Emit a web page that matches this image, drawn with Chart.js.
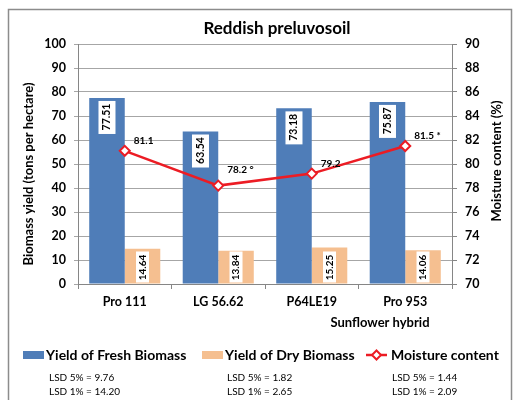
<!DOCTYPE html>
<html>
<head>
<meta charset="utf-8">
<script src="https://cdn.jsdelivr.net/npm/chart.js@4.4.1/dist/chart.umd.min.js"></script>
<style>
  html, body { margin: 0; padding: 0; background: #fff; }
  #wrap { width: 515px; height: 400px; position: relative; }
</style>
</head>
<body>
<div id="wrap"><canvas id="chart" width="515" height="400"></canvas></div>
<script>
// data
var hybrids = ['Pro 111', 'LG 56.62', 'P64LE19', 'Pro 953'];
var freshYield = [77.51, 63.54, 73.18, 75.87];
var dryYield = [14.64, 13.84, 15.25, 14.06];
var moisture = [81.1, 78.2, 79.2, 81.5];
var moistureLabels = ['81.1', '78.2 °', '79.2', '81.5 *'];
var seriesNames = ['Yield of Fresh Biomass', 'Yield of Dry Biomass', 'Moisture content'];
var lsdFresh = ['LSD 5% = 9.76', 'LSD 1% = 14.20'];
var lsdDry = ['LSD 5% = 1.82', 'LSD 1% = 2.65'];
var lsdMoisture = ['LSD 5% = 1.44', 'LSD 1% = 2.09'];

var FONT = 'Lato, "Liberation Sans", sans-serif';
var blue = '#4F7DB8';
var orange = '#F5BF90';
var red = '#EC1C24';
var axisGrey = '#868686';

// frame, titles, legend and LSD notes
var decorations = {
  id: 'decorations',
  beforeDraw: function(chart) {
    var c = chart.ctx;
    c.save();
    c.fillStyle = '#fff';
    c.fillRect(0, 0, chart.width, chart.height);
    c.strokeStyle = '#8C8C8C';
    c.lineWidth = 1.5;
    c.strokeRect(8.5, 9.5, 503, 400);
    c.restore();
  },
  afterDraw: function(chart) {
    var c = chart.ctx;
    c.save();
    c.fillStyle = '#000';
    c.textBaseline = 'middle';

    c.textAlign = 'center';
    c.font = 'bold 17px ' + FONT;
    c.fillText('Reddish preluvosoil', 277, 29);

    c.font = 'bold 13px ' + FONT;
    c.fillText('Sunflower hybrid', 380, 323);

    c.save();
    c.translate(29, 174);
    c.rotate(-Math.PI / 2);
    c.fillText('Biomass yield (tons per hectare)', 0, 0);
    c.restore();

    c.save();
    c.translate(497, 161);
    c.rotate(-Math.PI / 2);
    c.fillText('Moisture content (%)', 0, 0);
    c.restore();

    // legend
    c.textAlign = 'left';
    c.font = 'bold 14px ' + FONT;
    c.fillStyle = blue;
    c.fillRect(23, 351, 21, 8);
    c.fillStyle = '#000';
    c.fillText(seriesNames[0], 46, 355);
    c.fillStyle = orange;
    c.fillRect(202, 351, 21, 8);
    c.fillStyle = '#000';
    c.fillText(seriesNames[1], 225, 355);
    c.strokeStyle = red;
    c.lineWidth = 2.5;
    c.beginPath();
    c.moveTo(366, 355);
    c.lineTo(387, 355);
    c.stroke();
    c.beginPath();
    c.moveTo(376.5, 350.5);
    c.lineTo(381, 355);
    c.lineTo(376.5, 359.5);
    c.lineTo(372, 355);
    c.closePath();
    c.fillStyle = '#fff';
    c.fill();
    c.lineWidth = 2;
    c.stroke();
    c.fillStyle = '#000';
    c.fillText(seriesNames[2], 391, 355);

    // LSD notes
    c.font = '10px ' + FONT;
    [[lsdFresh, 49], [lsdDry, 227], [lsdMoisture, 392]].forEach(function(col) {
      c.fillText(col[0][0], col[1], 378);
      c.fillText(col[0][1], col[1], 392);
    });
    c.restore();
  }
};

// value labels on bars and line points
var valueLabels = {
  id: 'valueLabels',
  afterDatasetsDraw: function(chart) {
    var c = chart.ctx;
    c.save();
    c.textAlign = 'center';
    c.textBaseline = 'middle';

    chart.getDatasetMeta(0).data.forEach(function(bar, i) {
      var cy = bar.y + 19;
      c.fillStyle = '#fff';
      c.fillRect(bar.x - 8.5, bar.y + 3, 17, 33);
      c.save();
      c.translate(bar.x, cy);
      c.rotate(-Math.PI / 2);
      c.fillStyle = '#000';
      c.font = 'bold 10.5px ' + FONT;
      c.fillText(freshYield[i].toFixed(2), 0, 0);
      c.restore();
    });

    chart.getDatasetMeta(1).data.forEach(function(bar, i) {
      var cy = bar.base - 16;
      c.fillStyle = '#fff';
      c.fillRect(bar.x - 6.5, bar.base - 32, 13, 31);
      c.save();
      c.translate(bar.x, cy);
      c.rotate(-Math.PI / 2);
      c.fillStyle = '#000';
      c.font = 'bold 10px ' + FONT;
      c.fillText(dryYield[i].toFixed(2), 0, 0);
      c.restore();
    });

    c.textAlign = 'left';
    c.font = 'bold 10px ' + FONT;
    c.fillStyle = '#000';
    chart.getDatasetMeta(2).data.forEach(function(pt, i) {
      var up = i === 1 ? 16 : 10;
      c.fillText(moistureLabels[i], pt.x + 9, pt.y - up);
    });
    c.restore();
  }
};

var chart = new Chart(document.getElementById('chart'), {
  type: 'bar',
  data: {
    labels: hybrids,
    datasets: [
      {
        label: seriesNames[0],
        data: freshYield,
        backgroundColor: blue,
        yAxisID: 'y',
        order: 2,
        categoryPercentage: 0.76,
        barPercentage: 1.0
      },
      {
        label: seriesNames[1],
        data: dryYield,
        backgroundColor: orange,
        yAxisID: 'y',
        order: 2,
        categoryPercentage: 0.76,
        barPercentage: 1.0
      },
      {
        type: 'line',
        label: seriesNames[2],
        data: moisture,
        yAxisID: 'y1',
        borderColor: red,
        borderWidth: 2.5,
        pointStyle: 'rectRot',
        pointRadius: 5,
        pointBorderWidth: 2,
        pointBackgroundColor: '#fff',
        pointBorderColor: red,
        tension: 0,
        fill: false,
        order: 1
      }
    ]
  },
  options: {
    responsive: false,
    animation: false,
    layout: { padding: { top: 44, left: 0, right: 0, bottom: 0 } },
    plugins: {
      legend: { display: false },
      title: { display: false },
      tooltip: { enabled: false }
    },
    scales: {
      x: {
        offset: true,
        grid: { offset: true, drawOnChartArea: false, tickLength: 5, color: axisGrey },
        border: { color: axisGrey, width: 1 },
        ticks: { color: '#000', padding: 5, font: { family: FONT, size: 12.5, weight: 'bold' } },
        afterFit: function(s) { s.height = 116; }
      },
      y: {
        position: 'left',
        min: 0,
        max: 100,
        ticks: { stepSize: 10, color: '#000', padding: 8, font: { family: FONT, size: 12.5, weight: 'bold' } },
        grid: { color: '#A6A6A6', tickLength: 4 },
        border: { color: axisGrey, width: 1 },
        afterFit: function(s) { s.width = 78; }
      },
      y1: {
        position: 'right',
        min: 70,
        max: 90,
        ticks: { stepSize: 2, color: '#000', padding: 8, font: { family: FONT, size: 12.5, weight: 'bold' } },
        grid: { drawOnChartArea: false, tickLength: 5, color: axisGrey },
        border: { color: axisGrey, width: 1 },
        afterFit: function(s) { s.width = 63; }
      }
    }
  },
  plugins: [decorations, valueLabels]
});
</script>
</body>
</html>
